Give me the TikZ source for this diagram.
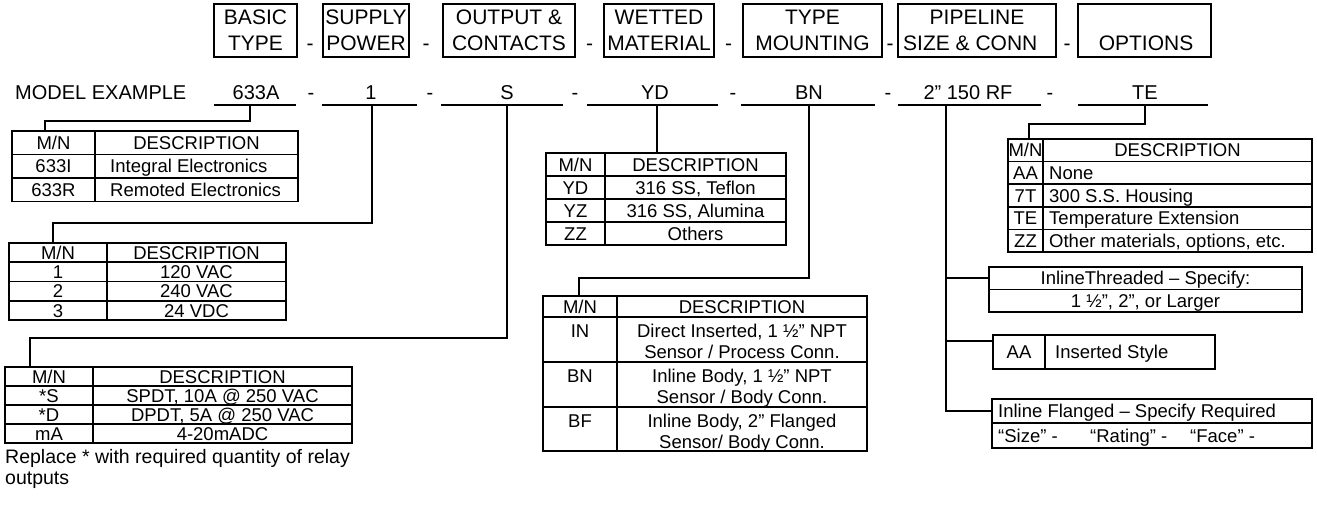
\documentclass[tikz,border=0pt]{standalone}
\usepackage{fontspec}
\setmainfont{Liberation Sans}
\begin{document}
\begin{tikzpicture}[x=1pt,y=-1pt,
  hbox/.style={draw, line width=1.9pt, inner sep=0pt, minimum height=53pt},
  tbox/.style={draw, line width=1.9pt, inner sep=0pt},
  grid/.style={line width=1.7pt},
  conn/.style={line width=1.5pt},
  thin/.style={line width=1.1pt},
  uline/.style={line width=1.5pt},
  ht/.style={font=\fontsize{21}{25}\selectfont, anchor=base, inner sep=0pt, yshift=-7.5pt},
  mt/.style={font=\fontsize{20}{24}\selectfont, anchor=base, inner sep=0pt, yshift=-7.2pt},
  tc/.style={font=\fontsize{18.5}{22}\selectfont, anchor=base, inner sep=0pt, yshift=-6.6pt},
  tl/.style={tc, anchor=base west},
  nt/.style={font=\fontsize{19.5}{23}\selectfont, anchor=base west, inner sep=0pt}]
\fill[white] (0,0) rectangle (1317,505);
\useasboundingbox (0,0) rectangle (1317,505);

% ---------- header boxes ----------
\node[hbox, minimum width=83pt]  (hA) at (255.5,30.5) {};
\node[hbox, minimum width=86pt]  (hB) at (366,30.5) {};
\node[hbox, minimum width=132pt] (hC) at (509,30.5) {};
\node[hbox, minimum width=110pt] (hD) at (659,30.5) {};
\node[hbox, minimum width=139pt] (hE) at (812.5,30.5) {};
\node[hbox, minimum width=158pt] (hF) at (977,30.5) {};
\node[hbox, minimum width=133pt] (hG) at (1144.5,30.5) {};
\node[ht] (hA1) at (255.5,17) {BASIC};
\node[ht] (hA2) at (255.5,43) {TYPE};
\node[ht] (hB1) at (366,17) {SUPPLY};
\node[ht] (hB2) at (366,43) {POWER};
\node[ht] (hC1) at (509,17) {OUTPUT \&};
\node[ht] (hC2) at (509,43) {CONTACTS};
\node[ht] (hD1) at (659,17) {WETTED};
\node[ht] (hD2) at (659,43) {MATERIAL};
\node[ht] (hE1) at (812.5,17) {TYPE};
\node[ht] (hE2) at (812.5,43) {MOUNTING};
\node[ht] (hF1) at (977,17) {PIPELINE};
\node[ht, anchor=base west] (hF2) at (903,43) {SIZE \& CONN};
\node[ht] (hG2) at (1146,43) {OPTIONS};
\node[ht] (hd1) at (310,43) {-};
\node[ht] (hd2) at (426,43) {-};
\node[ht] (hd3) at (589.5,43) {-};
\node[ht] (hd4) at (728.5,43) {-};
\node[ht] (hd5) at (890,43) {-};
\node[ht] (hd6) at (1067,43) {-};

% ---------- model example row ----------
\node[mt, anchor=base west] (mex) at (15,92) {MODEL EXAMPLE};
\node[mt] (m1) at (256,92) {633A};
\node[mt] (m2) at (371,92) {1};
\node[mt] (m3) at (507,92) {S};
\node[mt] (m4) at (655,92) {YD};
\node[mt] (m5) at (809,92) {BN};
\node[mt] (m6) at (968,92) {2” 150 RF};
\node[mt] (m7) at (1145,92) {TE};
\node[mt] (md1) at (311,92) {-};
\node[mt] (md2) at (430,92) {-};
\node[mt] (md3) at (575,92) {-};
\node[mt] (md4) at (733,92) {-};
\node[mt] (md5) at (888,92) {-};
\node[mt] (md6) at (1050,92) {-};
\draw[uline] (214,105) -- (296,105);
\draw[uline] (322,105) -- (417,105);
\draw[uline] (441,105) -- (563,105);
\draw[uline] (587,105) -- (718,105);
\draw[uline] (741,105) -- (875,105);
\draw[uline] (898,105) -- (1041,105);
\draw[uline] (1078,105) -- (1208,105);

% ---------- connector end points ----------
\coordinate (v1) at (250,105);  \coordinate (e1) at (45,131);
\coordinate (v2) at (372,105);  \coordinate (e2) at (53,243);
\coordinate (v3) at (507,105);  \coordinate (e3) at (30,367);
\coordinate (v4) at (657,105);  \coordinate (e4) at (657,153);
\coordinate (v5) at (809,105);  \coordinate (e5) at (579,296);
\coordinate (v6) at (946,105);
\coordinate (e6a) at (989,278); \coordinate (e6b) at (993,341); \coordinate (e6c) at (992,411);
\coordinate (v7) at (1145,105); \coordinate (e7) at (1029,139);

\draw[conn] (v1) -- ++(0,16) -| (e1);
\draw[conn] (v2) -- ++(0,118) -| (e2);
\draw[conn] (v3) -- ++(0,233) -| (e3);
\draw[conn] (v4) -- (e4);
\draw[conn] (v5) -- ++(0,173) -| (e5);
\draw[thin] (v6) |- (e6c);
\draw[conn] (v6 |- e6a) -- (e6a);
\draw[conn] (v6 |- e6b) -- (e6b);
\draw[conn] (v7) -- ++(0,19) -| (e7);

% ---------- table 1 : basic type ----------
\node[tbox, minimum width=286pt, minimum height=70.5pt] (t1) at (155,166.25) {};
\draw[grid] (95,131) -- (95,201.5);
\draw[grid] (12,154.5) -- (298,154.5);
\draw[grid] (12,178) -- (298,178);
\node[tc] (t1a) at (53.5,142.75) {M/N};
\node[tc] (t1b) at (196.5,142.75) {DESCRIPTION};
\node[tc] (t1c) at (53.5,166.25) {633I};
\node[tl] (t1d) at (110,166.25) {Integral Electronics};
\node[tc] (t1e) at (53.5,189.75) {633R};
\node[tl] (t1f) at (110,189.75) {Remoted Electronics};

% ---------- table 2 : supply power ----------
\node[tbox, minimum width=277pt, minimum height=77pt] (t2) at (147.5,281.5) {};
\draw[grid] (107,243) -- (107,320);
\draw[grid] (9,262.25) -- (286,262.25);
\draw[grid] (9,281.5) -- (286,281.5);
\draw[grid] (9,300.75) -- (286,300.75);
\node[tc] (t2a) at (58,252.6) {M/N};
\node[tc] (t2b) at (196.5,252.6) {DESCRIPTION};
\node[tc] (t2c) at (58,271.9) {1};
\node[tc] (t2d) at (196.5,271.9) {120 VAC};
\node[tc] (t2e) at (58,291.1) {2};
\node[tc] (t2f) at (196.5,291.1) {240 VAC};
\node[tc] (t2g) at (58,310.4) {3};
\node[tc] (t2h) at (196.5,310.4) {24 VDC};

% ---------- table 3 : output & contacts ----------
\node[tbox, minimum width=347pt, minimum height=76pt] (t3) at (178.5,405) {};
\draw[grid] (93,367) -- (93,443);
\draw[grid] (5,386) -- (352,386);
\draw[grid] (5,405) -- (352,405);
\draw[grid] (5,424) -- (352,424);
\node[tc] (t3a) at (49,376.5) {M/N};
\node[tc] (t3b) at (222.5,376.5) {DESCRIPTION};
\node[tc] (t3c) at (49,395.5) {*S};
\node[tc] (t3d) at (222.5,395.5) {SPDT, 10A @ 250 VAC};
\node[tc] (t3e) at (49,414.5) {*D};
\node[tc] (t3f) at (222.5,414.5) {DPDT, 5A @ 250 VAC};
\node[tc] (t3g) at (49,433.5) {mA};
\node[tc] (t3h) at (222.5,433.5) {4-20mADC};
\node[nt] (n1) at (5,463.5) {Replace * with required quantity of relay};
\node[nt] (n2) at (5,484.5) {outputs};

% ---------- table 4 : wetted material ----------
\node[tbox, minimum width=240pt, minimum height=92pt] (t4) at (666,199) {};
\draw[grid] (605,153) -- (605,245);
\draw[grid] (546,176) -- (786,176);
\draw[grid] (546,199) -- (786,199);
\draw[grid] (546,222) -- (786,222);
\node[tc] (t4a) at (575.5,164.5) {M/N};
\node[tc] (t4b) at (695.5,164.5) {DESCRIPTION};
\node[tc] (t4c) at (575.5,187.5) {YD};
\node[tc] (t4d) at (695.5,187.5) {316 SS, Teflon};
\node[tc] (t4e) at (575.5,210.5) {YZ};
\node[tc] (t4f) at (695.5,210.5) {316 SS, Alumina};
\node[tc] (t4g) at (575.5,233.5) {ZZ};
\node[tc] (t4h) at (695.5,233.5) {Others};

% ---------- table 5 : type mounting ----------
\node[tbox, minimum width=324pt, minimum height=155pt] (t5) at (705,373.5) {};
\draw[grid] (617,296) -- (617,451);
\draw[grid] (543,317) -- (867,317);
\draw[grid] (543,362) -- (867,362);
\draw[grid] (543,407) -- (867,407);
\node[tc] (t5a) at (580,306.5) {M/N};
\node[tc] (t5b) at (742,306.5) {DESCRIPTION};
\node[tc] (t5c) at (580,331) {IN};
\node[tc] (t5d) at (742,331) {Direct Inserted, 1 ½” NPT};
\node[tc] (t5e) at (742,352) {Sensor / Process Conn.};
\node[tc] (t5f) at (580,376) {BN};
\node[tc] (t5g) at (742,376) {Inline Body, 1 ½” NPT};
\node[tc] (t5h) at (742,397) {Sensor / Body Conn.};
\node[tc] (t5i) at (580,421) {BF};
\node[tc] (t5j) at (742,421) {Inline Body, 2” Flanged};
\node[tc] (t5k) at (742,442) {Sensor/ Body Conn.};

% ---------- table 6 : options ----------
\node[tbox, minimum width=304pt, minimum height=113pt] (t6) at (1160,195.5) {};
\draw[grid] (1043,139) -- (1043,252);
\draw[grid] (1008,161.6) -- (1312,161.6);
\draw[grid] (1008,184.2) -- (1312,184.2);
\draw[grid] (1008,206.8) -- (1312,206.8);
\draw[grid] (1008,229.4) -- (1312,229.4);
\node[tc] (t6a) at (1025.5,150.3) {M/N};
\node[tc] (t6b) at (1177.5,150.3) {DESCRIPTION};
\node[tc] (t6c) at (1025.5,172.9) {AA};
\node[tl] (t6d) at (1049,172.9) {None};
\node[tc] (t6e) at (1025.5,195.5) {7T};
\node[tl] (t6f) at (1049,195.5) {300 S.S. Housing};
\node[tc] (t6g) at (1025.5,218.1) {TE};
\node[tl] (t6h) at (1049,218.1) {Temperature Extension};
\node[tc] (t6i) at (1025.5,240.7) {ZZ};
\node[tl] (t6j) at (1049,240.7) {Other materials, options, etc.};

% ---------- pipeline size boxes ----------
\node[tbox, minimum width=313pt, minimum height=45pt] (b1) at (1145.5,289.5) {};
\draw[grid] (989,289.5) -- (1302,289.5);
\node[tc] (b1a) at (1145.5,278.25) {InlineThreaded – Specify:};
\node[tc] (b1b) at (1145.5,300.75) {1 ½”, 2”, or Larger};

\node[tbox, minimum width=222pt, minimum height=34pt] (b2) at (1104,352) {};
\draw[grid] (1045,335) -- (1045,369);
\node[tc] (b2a) at (1019,352) {AA};
\node[tl] (b2b) at (1055,352) {Inserted Style};

\node[tbox, minimum width=320pt, minimum height=49pt] (b3) at (1152,423.5) {};
\draw[grid] (992,423) -- (1312,423);
\node[tl] (b3a) at (998,411) {Inline Flanged – Specify Required};
\node[tl] (b3b) at (998,435.5) {“Size” -};
\node[tl] (b3c) at (1090,435.5) {“Rating” -};
\node[tl] (b3d) at (1190,435.5) {“Face” -};
\end{tikzpicture}
\end{document}
